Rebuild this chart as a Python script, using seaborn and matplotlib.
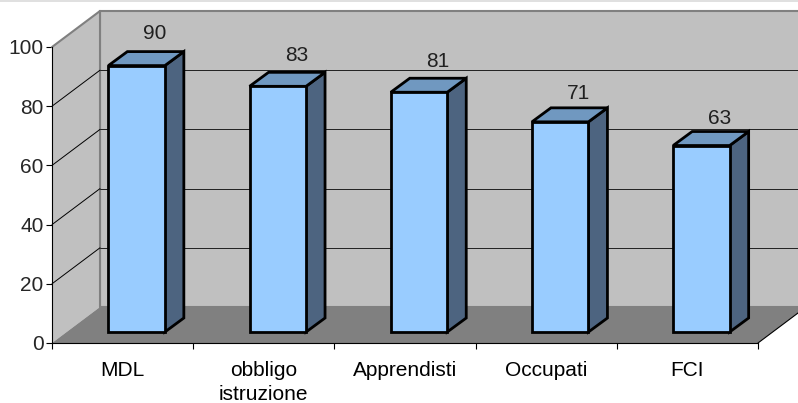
import matplotlib
matplotlib.use("Agg")
import matplotlib.pyplot as plt
import seaborn as sns
from matplotlib.patches import Polygon, Rectangle
from matplotlib.transforms import Affine2D

# Data
categories = ["MDL", "obbligo\nistruzione", "Apprendisti", "Occupati", "FCI"]
values = [90, 83, 81, 71, 63]
y_ticks = [0, 20, 40, 60, 80, 100]
grid_levels = [20, 40, 60, 80]

sns.set_style("white")
plt.rcParams['font.family'] = ['Liberation Sans', 'DejaVu Sans']
plt.rcParams['font.size'] = 15

W, H = 798, 403
fig = plt.figure(figsize=(W / 100, H / 100), dpi=100, facecolor='white')
ax = fig.add_axes([52 / W, (H - 343) / H, 706 / W, 296 / H])
ax.patch.set_visible(False)

sns.barplot(x=categories, y=values, width=0.4, color='#99CCFF', saturation=1,
            edgecolor='black', linewidth=2, ax=ax, zorder=5)
ax.set_xlim(-0.5, 4.5)
ax.set_ylim(0, 100)

# pixel offsets of the fake 3D look
back = ax.transData + Affine2D().translate(48, 36)
front = ax.transData + Affine2D().translate(14, 11)
shift_x = 48 / (706 / 5)
shift_y = 36 / 2.96
depth_x = 19 / (706 / 5)
depth_y = 14 / 2.96

# walls and floor
xl, xr = ax.get_xlim()
ax.add_patch(Rectangle((xl, 0), xr - xl, 100, transform=back, facecolor='#C0C0C0',
                       edgecolor='#808080', linewidth=1.5, zorder=1, clip_on=False))
ax.add_patch(Polygon([(xl, 0), (xl, 100), (xl + shift_x, 100 + shift_y), (xl + shift_x, shift_y)],
                     facecolor='#C0C0C0', edgecolor='none', zorder=1.5, clip_on=False))
ax.plot([xl, xl + shift_x], [100, 100 + shift_y], color='#808080', lw=1.5, zorder=2, clip_on=False)
ax.plot([xl + shift_x, xl + shift_x], [shift_y, 100 + shift_y], color='#808080', lw=1.5, zorder=2, clip_on=False)
ax.add_patch(Polygon([(xl, 0), (xl + shift_x, shift_y), (xr + shift_x, shift_y), (xr, 0)],
                     facecolor='#808080', edgecolor='none', zorder=2, clip_on=False))
ax.plot([xr, xr + shift_x], [0, shift_y], color='black', lw=0.8, zorder=2, clip_on=False)

# gridlines on side and back wall
for level in grid_levels:
    ax.plot([xl, xl + shift_x], [level, level + shift_y], color='black', lw=0.7, zorder=2, clip_on=False)
    ax.plot([xl, xr], [level, level], color='#202020', lw=0.7, transform=back, zorder=2, clip_on=False)

# bars: front from seaborn, side and top added
for bar, value in zip(list(ax.patches)[:len(values)], values):
    x0 = bar.get_x()
    x1 = x0 + bar.get_width()
    bar.set_transform(front)
    bar.set_clip_on(False)
    bar.set_joinstyle('miter')
    ax.add_patch(Polygon([(x1, 0), (x1 + depth_x, depth_y), (x1 + depth_x, value + depth_y), (x1, value)],
                         transform=front, facecolor='#4D6480', edgecolor='black', linewidth=2,
                         zorder=4, clip_on=False))
    ax.add_patch(Polygon([(x0, value), (x0 + depth_x, value + depth_y), (x1 + depth_x, value + depth_y), (x1, value)],
                         transform=front, facecolor='#7098C0', edgecolor='black', linewidth=2,
                         zorder=4, clip_on=False))
    ax.annotate(str(value), xy=((x0 + x1) / 2 + depth_x, value), xycoords=front,
                xytext=(-0.3, 0.72 * (27 + (value - 63) * 0.19)), textcoords='offset points',
                ha='center', va='center', color='#202020', zorder=6)

# axes and ticks
sns.despine(ax=ax, top=True, right=True)
for side in ['left', 'bottom']:
    ax.spines[side].set_color('black')
    ax.spines[side].set_linewidth(0.8)
    ax.spines[side].set_zorder(3)
ax.set_yticks(y_ticks)
ax.set_xticks(range(len(categories)))
ax.set_xticklabels(categories, linespacing=1.3)
ax.set_xticks([i - 0.5 for i in range(len(categories) + 1)], minor=True)
ax.tick_params(axis='x', which='major', length=0, pad=13, colors='black')
ax.tick_params(axis='x', which='minor', length=4.5, width=0.8, bottom=True, color='black')
ax.tick_params(axis='y', length=4, width=0.8, left=True, pad=2, color='black')

# thin light strip along the top edge of the image
fig.add_artist(Rectangle((0, 1 - 1.5 / H), 1, 1.5 / H, transform=fig.transFigure,
                         facecolor='#E0E0E0', edgecolor='none'))

fig.savefig('out.png', dpi=100)
